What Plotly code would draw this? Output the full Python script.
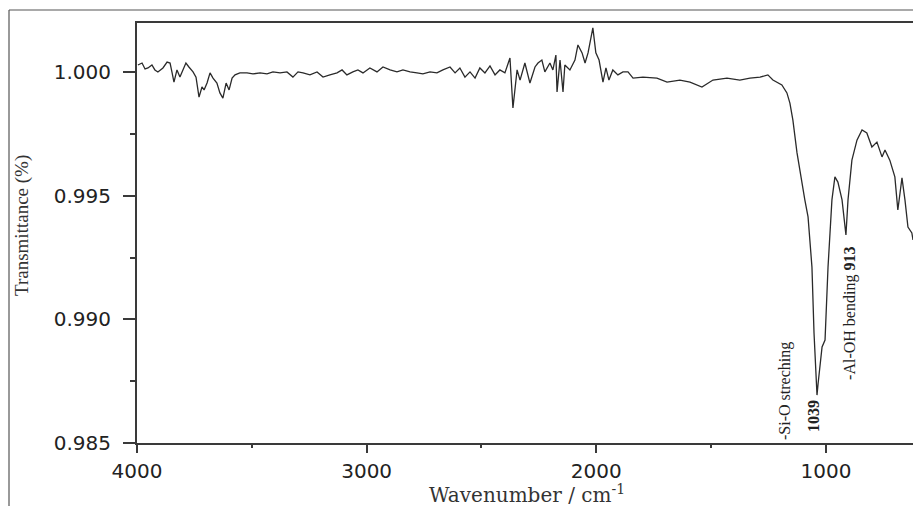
import plotly.graph_objects as go

# Wavenumber (cm^-1) and transmittance
wavenumber = [3996, 3978, 3965, 3952, 3935, 3922, 3909, 3887, 3869, 3856, 3848, 3839, 3826, 3813,
              3800, 3787, 3774, 3756, 3743, 3730, 3717, 3708, 3695, 3682, 3669, 3652, 3639, 3626,
              3612, 3599, 3586, 3573, 3552, 3521, 3495, 3464, 3434, 3408, 3377, 3347, 3321, 3299,
              3277, 3247, 3216, 3190, 3160, 3129, 3107, 3086, 3060, 3038, 3016, 2986, 2955, 2929,
              2898, 2868, 2842, 2811, 2781, 2755, 2724, 2694, 2668, 2637, 2615, 2594, 2572, 2550,
              2528, 2507, 2485, 2463, 2441, 2420, 2398, 2376, 2363, 2345, 2332, 2311, 2289, 2267,
              2254, 2237, 2224, 2202, 2189, 2176, 2171, 2158, 2145, 2137, 2115, 2093, 2080, 2062,
              2049, 2036, 2015, 2002, 1988, 1971, 1958, 1945, 1928, 1906, 1884, 1862, 1840, 1797,
              1736, 1692, 1636, 1592, 1540, 1492, 1431, 1375, 1331, 1287, 1253, 1231, 1192, 1170,
              1157, 1144, 1126, 1113, 1092, 1078, 1061, 1052, 1044, 1039, 1034, 1017, 1004, 991,
              974, 961, 948, 930, 913, 904, 887, 865, 843, 822, 800, 778, 756, 743,
              722, 700, 687, 669, 656, 643, 626, 621]
transmittance = [1.00030, 1.00038, 1.00014, 1.00018, 1.00030, 1.00010, 1.00002, 1.00018, 1.00042, 1.00038,
                 1.00002, 0.99961, 1.00010, 0.99981, 1.00010, 1.00038, 1.00022, 1.00002, 0.99981, 0.99900,
                 0.99941, 0.99929, 0.99957, 0.99998, 0.99977, 0.99957, 0.99917, 0.99896, 0.99957, 0.99929,
                 0.99977, 0.99990, 0.99998, 0.99998, 0.99994, 0.99998, 0.99994, 1.00002, 0.99998, 1.00002,
                 0.99981, 1.00002, 0.99998, 0.99990, 1.00002, 0.99981, 0.99990, 0.99998, 1.00010, 0.99990,
                 1.00002, 1.00010, 0.99998, 1.00018, 1.00002, 1.00022, 1.00010, 1.00002, 1.00010, 1.00002,
                 0.99998, 0.99994, 1.00002, 0.99998, 1.00010, 1.00022, 0.99998, 1.00018, 0.99981, 1.00002,
                 0.99977, 1.00018, 0.99998, 1.00026, 0.99990, 1.00010, 0.99998, 1.00058, 0.99856, 1.00010,
                 0.99969, 1.00038, 0.99957, 1.00022, 1.00038, 1.00050, 1.00002, 1.00038, 1.00010, 1.00070,
                 0.99921, 1.00050, 0.99921, 1.00030, 1.00010, 1.00050, 1.00111, 1.00079, 1.00038, 1.00079,
                 1.00180, 1.00079, 1.00050, 0.99961, 1.00018, 0.99969, 1.00010, 0.99990, 1.00002, 1.00002,
                 0.99977, 0.99981, 0.99977, 0.99961, 0.99969, 0.99961, 0.99941, 0.99969, 0.99977, 0.99969,
                 0.99977, 0.99981, 0.99990, 0.99969, 0.99949, 0.99917, 0.99876, 0.99807, 0.99674, 0.99597,
                 0.99484, 0.99415, 0.99212, 0.98945, 0.98743, 0.98694, 0.98743, 0.98889, 0.98917, 0.99212,
                 0.99484, 0.99577, 0.99556, 0.99484, 0.99342, 0.99484, 0.99645, 0.99726, 0.99767, 0.99755,
                 0.99698, 0.99718, 0.99658, 0.99686, 0.99645, 0.99577, 0.99443, 0.99573, 0.99484, 0.99374,
                 0.99350, 0.99322]

x_ticks = [4000, 3000, 2000, 1000]
y_ticks = [0.985, 0.990, 0.995, 1.000]
x_title = "Wavenumber / cm<sup>-1</sup>"
y_title = "Transmittance (%)"
band_labels = ["-Si-O streching", "<b>1039</b>", "-Al-OH bending <b>913</b>"]

L, R, T, B = 137, 913, 23, 443
W, H = 913, 506
pw, ph = R - L, B - T

def px(xp):
    return (xp - L) / pw

def py(yp):
    return (B - yp) / ph

fig = go.Figure()
fig.add_trace(go.Scatter(x=wavenumber, y=transmittance, mode="lines",
                         line=dict(color="#2a2a2a", width=1.3), showlegend=False,
                         hoverinfo="skip"))

axis_font = dict(family="DejaVu Sans", size=20, color="#222")
fig.update_layout(
    width=W, height=H,
    margin=dict(l=L, r=W - R, t=T, b=H - B, pad=0),
    paper_bgcolor="white", plot_bgcolor="white",
    showlegend=False,
    xaxis=dict(range=[4000, 621], tickvals=x_ticks, ticktext=[str(v) for v in x_ticks],
               showgrid=False, zeroline=False, showline=True, linecolor="#3a3a3a", linewidth=2,
               mirror=True, ticks="outside", ticklen=8, tickwidth=2, tickcolor="#3a3a3a",
               tickfont=axis_font, ticklabelstandoff=1,
               minor=dict(dtick=500, tick0=0, ticks="outside", ticklen=3, tickwidth=2,
                          tickcolor="#3a3a3a")),
    yaxis=dict(range=[0.985, 1.002], tickvals=y_ticks, ticktext=["%.3f" % v for v in y_ticks],
               showgrid=False, zeroline=False, showline=True, linecolor="#3a3a3a", linewidth=2,
               mirror=False, ticks="outside", ticklen=12, tickwidth=2, tickcolor="#3a3a3a",
               tickfont=axis_font, ticklabelstandoff=8,
               minor=dict(dtick=0.0025, tick0=0.985, ticks="outside", ticklen=5, tickwidth=2,
                          tickcolor="#3a3a3a")),
)

# outer frame lines (left and top)
fig.add_shape(type="line", xref="paper", yref="paper", x0=px(9), x1=px(9), y0=py(10), y1=py(510),
              line=dict(color="#555", width=1.2))
fig.add_shape(type="line", xref="paper", yref="paper", x0=px(9), x1=px(915), y0=py(10), y1=py(10),
              line=dict(color="#555", width=1.2))

serif = "Liberation Serif"
fig.add_annotation(xref="paper", yref="paper", x=px(22), y=py(226), text=y_title, textangle=-90,
                   showarrow=False, font=dict(family=serif, size=19, color="#333"),
                   xanchor="center", yanchor="middle")
fig.add_annotation(xref="paper", yref="paper", x=px(527), y=py(494), text=x_title,
                   showarrow=False, font=dict(family="DejaVu Serif", size=20, color="#333"),
                   xanchor="center", yanchor="middle")

fig.add_annotation(x=1179, y=0.98710, text=band_labels[0], textangle=-90, showarrow=False,
                   font=dict(family=serif, size=16, color="#222"), xanchor="center", yanchor="middle")
fig.add_annotation(x=1057, y=0.98609, text=band_labels[1], textangle=-90, showarrow=False,
                   font=dict(family=serif, size=16, color="#222"), xanchor="center", yanchor="middle")
fig.add_annotation(x=896, y=0.99026, text=band_labels[2], textangle=-90, showarrow=False,
                   font=dict(family=serif, size=16, color="#222"), xanchor="center", yanchor="middle")

fig.write_html("out.html", config={"displayModeBar": False},
               post_script="document.body.style.margin='0';document.body.style.overflow='hidden';")
